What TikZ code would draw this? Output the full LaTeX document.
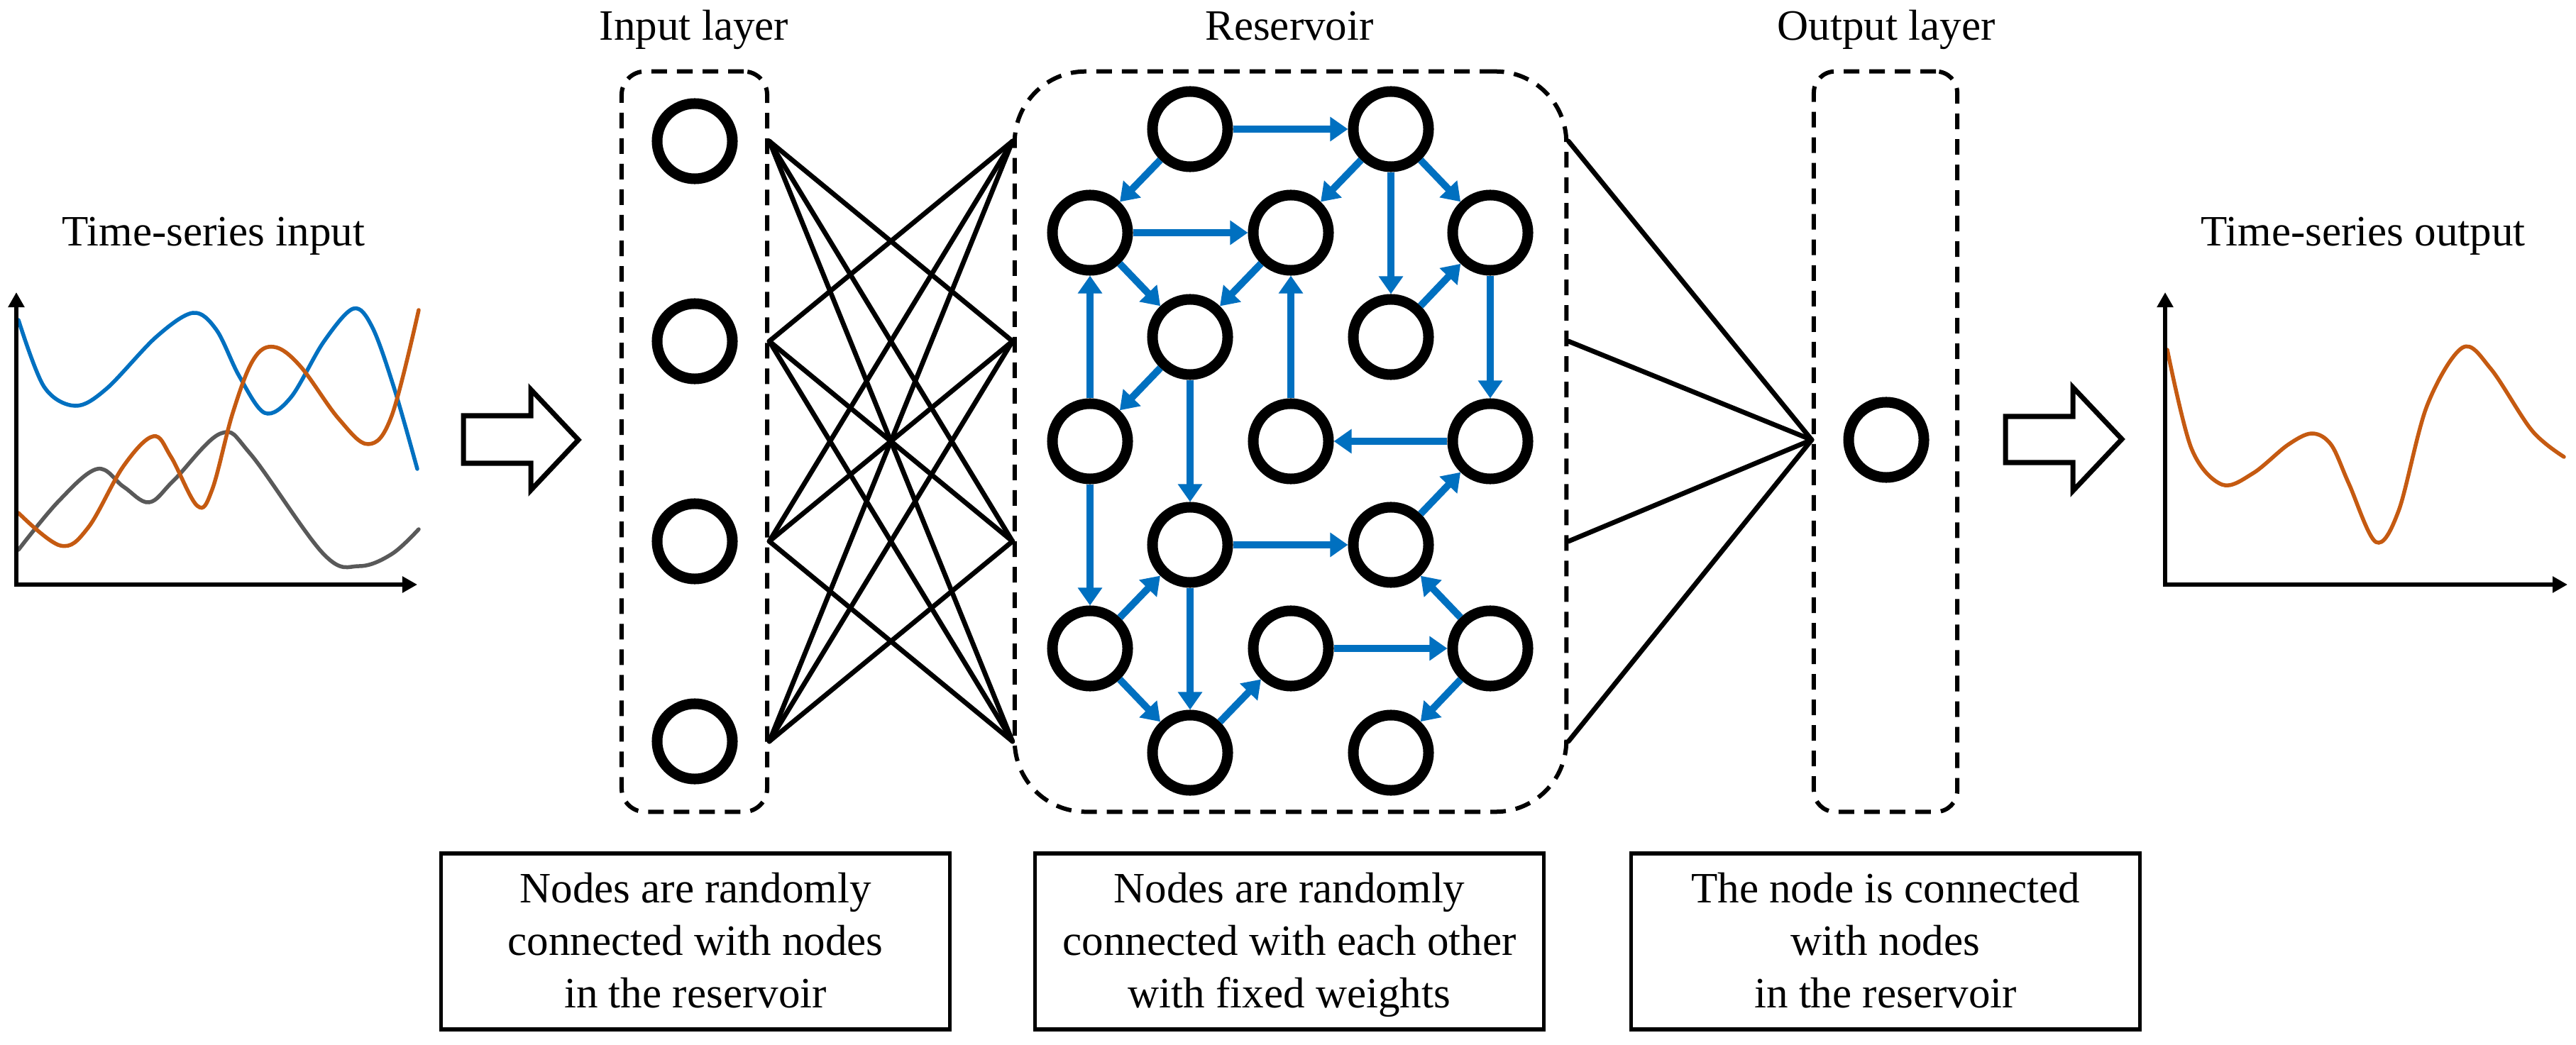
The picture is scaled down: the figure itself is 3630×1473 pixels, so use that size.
\documentclass[tikz,border=0pt]{standalone}
\usepackage{fontspec}
\setmainfont{Liberation Serif}
\usetikzlibrary{arrows.meta}
\definecolor{resblue}{HTML}{0070C0}
\definecolor{serorange}{HTML}{C55A11}
\definecolor{sergray}{HTML}{595959}
\begin{document}
\begin{tikzpicture}[x=0.01cm,y=-0.01cm,
  neuron/.style={circle,draw=black,line width=0.15cm,minimum size=1.06cm,inner sep=0pt,fill=white},
  layerbox/.style={draw,line width=0.06cm,dash pattern=on 0.22cm off 0.14cm,inner sep=0pt},
  wire/.style={line width=0.068cm,line cap=round},
  resarrow/.style={draw=resblue,line width=0.1cm,-{Triangle[length=0.25cm,width=0.33cm]}},
  ttl/.style={font=\fontsize{17.36pt}{21pt}\selectfont,anchor=base,inner sep=0pt},
  descbox/.style={draw,line width=0.053cm,minimum width=7.16cm,minimum height=2.48cm,inner sep=0pt},
  desctext/.style={font=\fontsize{17.36pt}{21.06pt}\selectfont,align=center,inner sep=0pt},
  axisline/.style={line width=0.055cm,line join=miter,{Triangle[length=0.21cm,width=0.22cm]}-{Triangle[length=0.21cm,width=0.22cm]}},
  series/.style={line width=0.055cm,line cap=round},
  bigarrow/.style={draw,line width=0.07cm,fill=white,line join=miter}
]
\useasboundingbox (0,0) rectangle (3630,1473);
\fill[white] (0,0) rectangle (3630,1473);

% titles
\node[ttl] (tin) at (301,347) {Time-series input};
\node[ttl] (tinl) at (978,57) {Input layer};
\node[ttl] (tres) at (1817,57) {Reservoir};
\node[ttl] (toutl) at (2658,57) {Output layer};
\node[ttl] (tso) at (3330,347) {Time-series output};

% left chart
\coordinate (lo) at (23,824);
\coordinate (ly) at (23,412);
\coordinate (lx) at (588,824);
\draw[series,sergray] plot[smooth,tension=0.6] coordinates {(26,775) (83,706) (137,661) (174,686) (210,708) (245,677) (311,611) (353,640) (456,781) (506,798) (552,781) (590,746)};
\draw[series,resblue] plot[smooth,tension=0.55] coordinates {(26,451) (62,545) (106,572) (150,548) (220,475) (272,441) (305,465) (337,530) (373,582) (410,560) (456,482) (498,435) (525,462) (556,549) (588,661)};
\draw[series,serorange] plot[smooth,tension=0.6] coordinates {(26,723) (85,769) (124,744) (174,657) (216,615) (241,644) (278,713) (299,690) (328,582) (357,507) (386,489) (423,516) (477,590) (519,626) (552,586) (590,437)};
\draw[axisline] (ly) -- (lo) -- (lx);

% right chart
\coordinate (ro) at (3051,824);
\coordinate (ry) at (3051,412);
\coordinate (rx) at (3618,824);
\draw[series,serorange] plot[smooth,tension=0.55] coordinates {(3054,493) (3088,632) (3131,683) (3175,667) (3224,627) (3258,611) (3285,627) (3310,682) (3348,764) (3380,720) (3420,572) (3470,490) (3510,520) (3568,607) (3613,644)};
\draw[axisline] (ry) -- (ro) -- (rx);

% hollow arrows
\draw[bigarrow] (653,586) -- (748,586) -- (748,549) -- (815,620) -- (748,691) -- (748,653) -- (653,653) -- cycle;
\draw[bigarrow] (2826,587) -- (2921,587) -- (2921,546) -- (2990,619) -- (2921,692) -- (2921,652) -- (2826,652) -- cycle;

% layer boxes
\node[layerbox,rounded corners=0.33cm,minimum width=2.05cm,minimum height=10.43cm] (inbox) at (978.5,622.5) {};
\node[layerbox,rounded corners=1.0cm,minimum width=7.77cm,minimum height=10.43cm] (resbox) at (1818.5,622.5) {};
\node[layerbox,rounded corners=0.3cm,minimum width=2.02cm,minimum height=10.43cm] (outbox) at (2657,622.5) {};

% input nodes
\node[neuron] (i1) at (979,199) {};
\node[neuron] (i2) at (979,481) {};
\node[neuron] (i3) at (979,763) {};
\node[neuron] (i4) at (979,1045) {};

% output node
\node[neuron] (o) at (2658,620) {};

% input -> reservoir wires
\foreach \a in {1,2,3,4}{
  \foreach \b in {1,2,3,4}{
    \ifnum\a=\b\else
      \draw[wire] (inbox.east |- i\a) -- (resbox.west |- i\b);
    \fi
  }
}
% reservoir -> output wires
\foreach \b in {1,2,3,4}{
  \draw[wire] (resbox.east |- i\b) -- (outbox.west |- o);
}

% reservoir nodes
\node[neuron] (A) at (1677,182) {};
\node[neuron] (B) at (1960,182) {};
\node[neuron] (C) at (1536,328) {};
\node[neuron] (D) at (1819,328) {};
\node[neuron] (E) at (2100,328) {};
\node[neuron] (F) at (1677,475) {};
\node[neuron] (G) at (1960,475) {};
\node[neuron] (H) at (1536,622) {};
\node[neuron] (I) at (1819,622) {};
\node[neuron] (J) at (2100,622) {};
\node[neuron] (K) at (1677,768) {};
\node[neuron] (L) at (1960,768) {};
\node[neuron] (M) at (1536,914) {};
\node[neuron] (N) at (1819,914) {};
\node[neuron] (O) at (2100,914) {};
\node[neuron] (P) at (1677,1061) {};
\node[neuron] (Q) at (1960,1061) {};

% reservoir arrows
\foreach \s/\t in {A/B,A/C,B/D,B/E,B/G,C/D,C/F,D/F,H/C,I/D,G/E,E/J,F/H,F/K,J/I,H/M,M/K,K/L,L/J,K/P,M/P,P/N,N/O,O/L,O/Q}{
  \draw[resarrow] (\s) -- (\t);
}

% description boxes
\node[descbox] (d1) at (980,1327) {};
\node[desctext] (t1) at ([yshift=-0.05cm]d1.center) {\strut Nodes are randomly\\connected with nodes\\in the reservoir\strut};
\node[descbox] (d2) at (1817,1327) {};
\node[desctext] (t2) at ([yshift=-0.05cm]d2.center) {\strut Nodes are randomly\\connected with each other\\with fixed weights\strut};
\node[descbox] (d3) at (2657,1327) {};
\node[desctext] (t3) at ([yshift=-0.05cm]d3.center) {\strut The node is connected\\with nodes\\in the reservoir\strut};
\end{tikzpicture}
\end{document}
